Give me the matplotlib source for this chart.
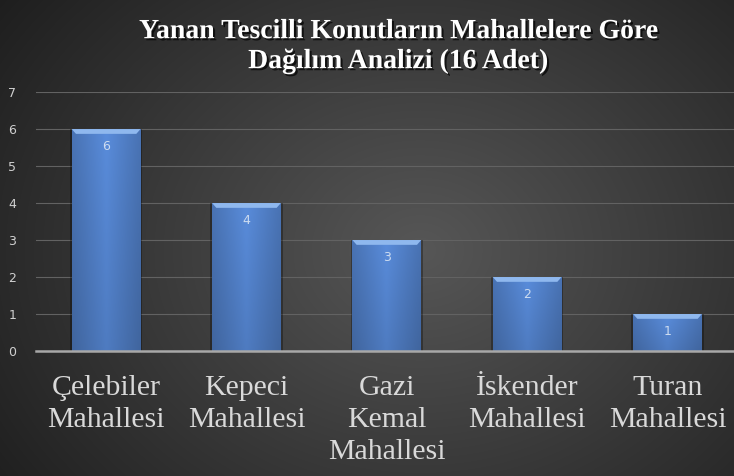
import matplotlib
matplotlib.use("Agg")
import matplotlib.pyplot as plt
import matplotlib.patheffects as pe
import numpy as np

# veriler
mahalleler = ["Çelebiler\nMahallesi", "Kepeci\nMahallesi", "Gazi\nKemal\nMahallesi",
              "İskender\nMahallesi", "Turan\nMahallesi"]
adet = [6, 4, 3, 2, 1]
y_ticks = [0, 1, 2, 3, 4, 5, 6, 7]
baslik = "Yanan Tescilli Konutların Mahallelere Göre\nDağılım Analizi (16 Adet)"

fig = plt.figure(figsize=(7.34, 4.76), dpi=100)

# arka plan: koyu radyal gradyan
bg = fig.add_axes([0, 0, 1, 1], zorder=0)
yy, xx = np.mgrid[0:476, 0:734]
r = np.sqrt(((xx - 420) / 520.0) ** 2 + ((yy - 250) / 420.0) ** 2)
shade = np.clip(0.34 - 0.22 * r, 0.10, 0.34)
bg.imshow(np.dstack([shade] * 3), aspect="auto", extent=[0, 1, 0, 1])
bg.axis("off")

ax = fig.add_axes([0.049, 0.2626, 0.956, 0.544], zorder=1)
ax.patch.set_alpha(0)
x = np.arange(len(adet))
bars = ax.bar(x, adet, width=0.49, color="#5289d2", zorder=3)

# çubuk dolgusu: hafif gradyan + üstte eğimli açık şerit
gx = np.linspace(0, 1, 60)
gy = np.linspace(0, 1, 60)[:, None]
prof = (1 - 0.18 * np.abs(gx - 0.5) * 2)[None, :] * (0.88 + 0.12 * gy)
for b in bars:
    x0, w, h = b.get_x(), b.get_width(), b.get_height()
    ax.bar(x0 + w / 2, h, width=w + 0.025, color="black", alpha=0.3, zorder=2)
    img = np.dstack([0.35 * prof, 0.55 * prof, 0.86 * prof])
    im = ax.imshow(img, extent=[x0, x0 + w, 0, h], aspect="auto", origin="lower", zorder=4)
    im.set_clip_path(b)
    ax.fill([x0, x0 + w, x0 + w - 0.03, x0 + 0.03], [h, h, h - 0.13, h - 0.13],
            color="#8fb8ee", zorder=5, lw=0)
    ax.text(x0 + w / 2, h - 0.48, str(int(h)), ha="center", va="center",
            color="#cddcf0", fontsize=9, zorder=6)

ax.set_xlim(-0.5, len(adet) - 0.5)
ax.set_ylim(0, 7)
ax.set_yticks(y_ticks)
ax.yaxis.grid(True, color="#626262", lw=0.8, zorder=1)
ax.set_axisbelow(True)
for s in ["top", "right", "left"]:
    ax.spines[s].set_visible(False)
ax.spines["bottom"].set_color("#a8a8a8")
ax.spines["bottom"].set_linewidth(1.8)
ax.spines["bottom"].set_zorder(7)
ax.tick_params(axis="y", length=0, colors="#d0d0d0", labelsize=9, pad=20)
ax.tick_params(axis="x", length=0, pad=17)
ax.set_xticks(x)
ax.set_xticklabels(mahalleler, fontfamily="Liberation Serif", fontsize=21.5,
                   color="#d9d9d9", linespacing=1.3)
for lbl in ax.get_yticklabels():
    lbl.set_horizontalalignment("left")

fig.text(0.543, 0.902, baslik, ha="center", va="center", color="white",
         fontfamily="Liberation Serif", fontweight="bold", fontsize=20,
         linespacing=1.25,
         path_effects=[pe.withSimplePatchShadow(offset=(1.5, -1.5), shadow_rgbFace="black", alpha=0.7)])

fig.savefig("out.png", dpi=100)
